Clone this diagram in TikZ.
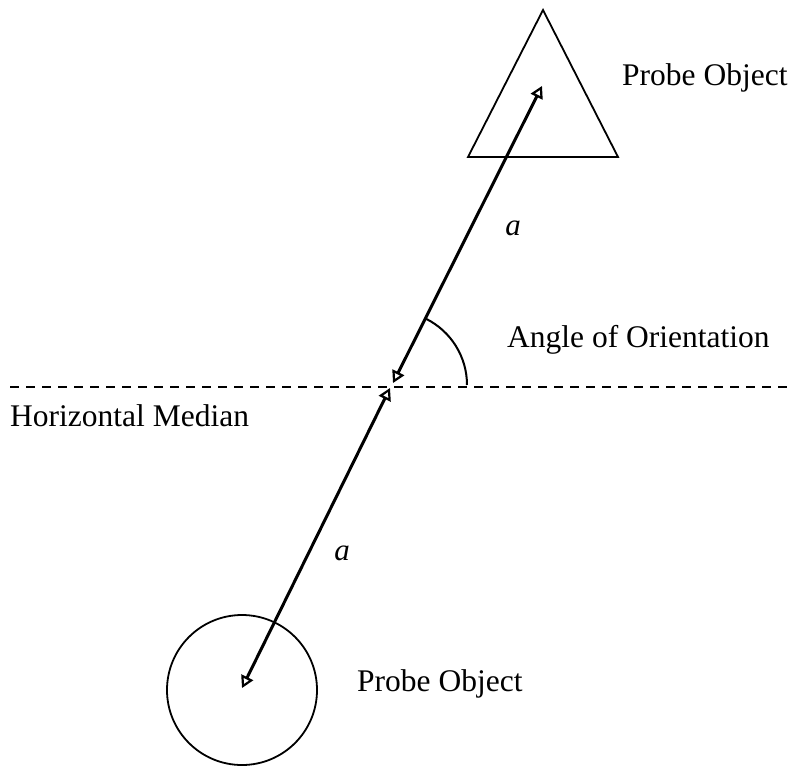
\documentclass[tikz,border=0pt]{standalone}
\usepackage{fontspec}
\setmainfont{Liberation Serif}
\usetikzlibrary{arrows.meta}
\begin{document}
\begin{tikzpicture}[x=1pt,y=-1pt,
  lbl/.style={font=\fontsize{31.5}{34}\selectfont, inner sep=0pt, anchor=west},
  alabel/.style={font=\fontsize{31}{34}\selectfont\itshape, inner sep=0pt},
  shapeline/.style={line width=1.8pt},
  vec/.style={line width=3pt, {Triangle[open,length=12pt,width=13pt,line width=2.2pt]}-{Triangle[open,length=12pt,width=13pt,line width=2.2pt]}}]
\useasboundingbox (0,0) rectangle (792,766);
% shapes
\draw[shapeline] (468,157) -- (543,10) -- (618,157) -- cycle;
\node[draw, shapeline, circle, minimum size=150pt, inner sep=0pt] (circ) at (242,690) {};
% dashed median
\coordinate (mL) at (10,387);
\coordinate (mR) at (790,387);
\draw[line width=1.7pt, dash pattern=on 9pt off 7pt] (mL) -- (mR);
% vectors
\coordinate (top) at (542,86);
\coordinate (midA) at (393,383);
\coordinate (midB) at (390,388);
\coordinate (bot) at (242,688);
\draw[vec] (midA) -- (top);
\draw[vec] (midB) -- (bot);
% angle arc
\draw[line width=2pt] (467,385) arc[start angle=0, end angle=-63.5, radius=74];
% labels
\node[lbl] (p1) at (622,78) {Probe Object};
\node[lbl] (p2) at (357,684) {Probe Object};
\node[lbl] (ang) at (507,340) {Angle of Orientation};
\node[lbl] (hm) at (10,416) {Horizontal Median};
\node[alabel] (a1) at (513,228) {a};
\node[alabel] (a2) at (342,553) {a};
\end{tikzpicture}
\end{document}
